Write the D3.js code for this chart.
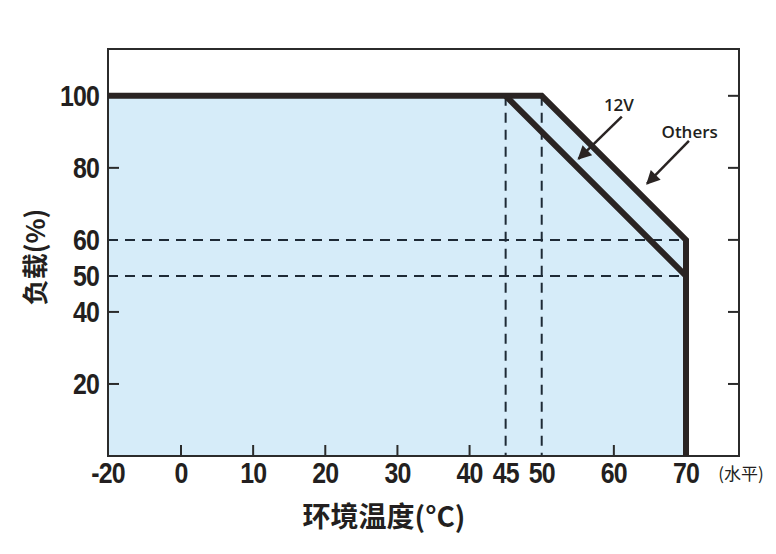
<!DOCTYPE html>
<html>
<head>
<meta charset="utf-8">
<script src="https://cdn.jsdelivr.net/npm/d3@7"></script>
<style>
  body { margin: 0; background: #fff; }
  .tick-lbl { font-family: Arial, "Liberation Sans", sans-serif; font-weight: bold; font-size: 29px; fill: #231f20; letter-spacing: -1px; }
  .cjk { font-family: "Noto Sans CJK SC", sans-serif; fill: #231f20; }
  .note { font-family: "Open Sans", "Noto Sans", sans-serif; font-weight: 600; font-size: 17px; fill: #231f20; }
</style>
</head>
<body>
<div id="chart"></div>
<script>
// datos de la grafica (temperatura vs carga)
const xTicks = [-20, 0, 10, 20, 30, 40, 45, 50, 60, 70];
const yTicks = [20, 40, 50, 60, 80, 100];
const othersCurve = [[-20, 100], [50, 100], [70, 60], [70, 0]];
const curve12V = [[45, 100], [70, 50], [70, 0]];
const dashX = [45, 50];
const dashY = [50, 60];
const shortTicksX = [0, 10, 20, 30, 40, 60];
const shortTicksYLeft = [20, 40, 80];
const shortTicksYRight = [20, 40, 60, 80, 100];
const notes = [
  { label: "12V", text: [60.7, 95.8], from: [61.1, 94.2], to: [55.1, 82.5] },
  { label: "Others", text: [70.5, 88.3], from: [70.4, 87.5], to: [64.6, 75.6] }
];

const W = 776, H = 554;
const svg = d3.select("#chart").append("svg").attr("width", W).attr("height", H);

// escala x con el tramo -20..0 comprimido como en el original
const x = d3.scaleLinear().domain([-20, 0, 70, 77.2]).range([108, 181, 686, 739]);
const y = d3.scaleLinear().domain([0, 113]).range([456, 49]);

const ink = "#2a2423";

// defs flecha
svg.append("defs").append("marker")
  .attr("id", "arr").attr("viewBox", "0 0 10 10").attr("refX", 9).attr("refY", 5)
  .attr("markerWidth", 6.5).attr("markerHeight", 5.5).attr("markerUnits", "strokeWidth")
  .attr("orient", "auto")
  .append("path").attr("d", "M0,0 L10,5 L0,10 z").attr("fill", ink);

// area azul
svg.append("path")
  .datum([[-20, 0], ...othersCurve])
  .attr("d", d3.line().x(d => x(d[0])).y(d => y(d[1])))
  .attr("fill", "#d6ecf9");

// lineas punteadas
const dash = svg.append("g").attr("stroke", "#1e2a36").attr("stroke-width", 2).attr("stroke-dasharray", "10,7");
dash.selectAll(".dx").data(dashX).enter().append("line")
  .attr("x1", d => x(d)).attr("x2", d => x(d))
  .attr("y1", y(100)).attr("y2", y(0));
dash.selectAll(".dy").data(dashY).enter().append("line")
  .attr("x1", x(-20)).attr("x2", x(70))
  .attr("y1", d => y(d)).attr("y2", d => y(d));

// marco
svg.append("rect")
  .attr("x", x(-20)).attr("y", y(113))
  .attr("width", x(77.2) - x(-20)).attr("height", y(0) - y(113))
  .attr("fill", "none").attr("stroke", "#2b2b2b").attr("stroke-width", 2);

// ticks internos
const tk = svg.append("g").attr("stroke", "#2b2b2b").attr("stroke-width", 2);
tk.selectAll(".bx").data(shortTicksX).enter().append("line")
  .attr("x1", d => x(d)).attr("x2", d => x(d)).attr("y1", y(0)).attr("y2", y(0) - 11);
tk.selectAll(".ly").data(shortTicksYLeft).enter().append("line")
  .attr("x1", x(-20)).attr("x2", x(-20) + 11).attr("y1", d => y(d)).attr("y2", d => y(d));
tk.selectAll(".ry").data(shortTicksYRight).enter().append("line")
  .attr("x1", x(77.2)).attr("x2", x(77.2) - 11).attr("y1", d => y(d)).attr("y2", d => y(d));

// curvas
const line = d3.line().x(d => x(d[0])).y(d => y(d[1]));
[curve12V, othersCurve].forEach(c => {
  svg.append("path").datum(c).attr("d", line)
    .attr("fill", "none").attr("stroke", ink).attr("stroke-width", 6)
    .attr("stroke-linejoin", "miter").attr("stroke-linecap", "butt");
});

// etiquetas de ejes (letra estrecha: escala horizontal)
svg.selectAll(".xl").data(xTicks).enter().append("text")
  .attr("class", "tick-lbl").attr("text-anchor", "middle")
  .attr("transform", d => `translate(${x(d)},483) scale(0.86,1)`).text(d => d);
svg.selectAll(".yl").data(yTicks).enter().append("text")
  .attr("class", "tick-lbl").attr("text-anchor", "end")
  .attr("transform", d => `translate(99,${y(d) + 10.5}) scale(0.86,1)`).text(d => d);

svg.append("text").attr("class", "cjk").attr("x", 741).attr("y", 480)
  .attr("text-anchor", "middle").attr("font-size", 17).text("(水平)");

svg.append("text").attr("class", "cjk").attr("font-weight", "bold").attr("font-size", 28)
  .attr("text-anchor", "middle").attr("x", 384).attr("y", 527).text("环境温度(°C)");

svg.append("text").attr("class", "cjk").attr("font-weight", "bold").attr("font-size", 26)
  .attr("text-anchor", "middle")
  .attr("transform", "translate(45,257) rotate(-90)").text("负载(%)");

// anotaciones
notes.forEach(n => {
  svg.append("line")
    .attr("x1", x(n.from[0])).attr("y1", y(n.from[1]))
    .attr("x2", x(n.to[0])).attr("y2", y(n.to[1]))
    .attr("stroke", ink).attr("stroke-width", 2.5).attr("marker-end", "url(#arr)");
  svg.append("text").attr("class", "note").attr("text-anchor", "middle")
    .attr("x", x(n.text[0])).attr("y", y(n.text[1])).text(n.label);
});
</script>
</body>
</html>
